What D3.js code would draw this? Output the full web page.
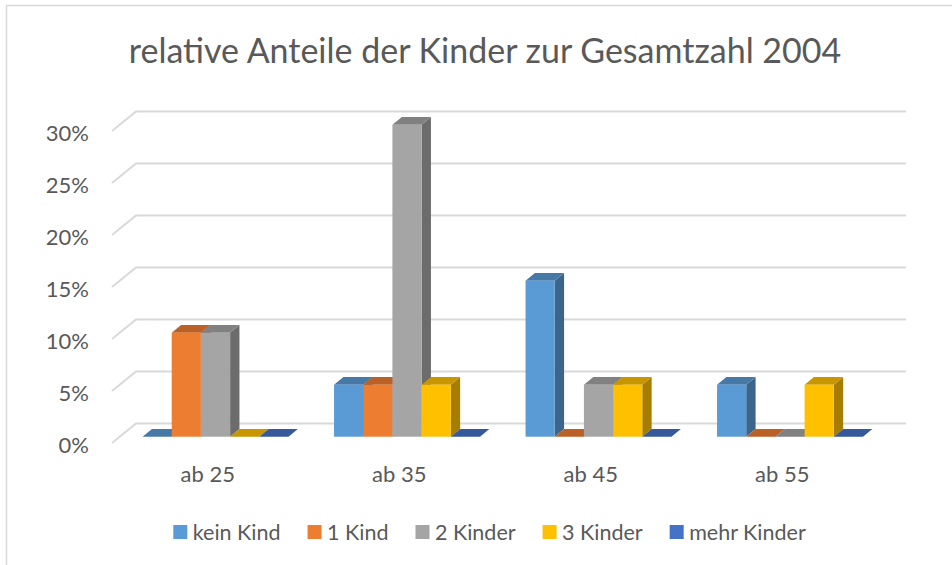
<!DOCTYPE html>
<html>
<head>
<meta charset="utf-8">
<script src="https://cdn.jsdelivr.net/npm/d3@7"></script>
<style>
body { margin: 0; background: #fff; }
text { font-family: Lato, "Noto Sans", sans-serif; fill: #595959; }
</style>
</head>
<body>
<svg id="chart" width="952" height="565"></svg>
<script>
var categories = ["ab 25", "ab 35", "ab 45", "ab 55"];
var seriesNames = ["kein Kind", "1 Kind", "2 Kinder", "3 Kinder", "mehr Kinder"];
var keinKind   = [0,    0.05, 0.15, 0.05];
var einKind    = [0.10, 0.05, 0,    0];
var zweiKinder = [0.10, 0.30, 0.05, 0];
var dreiKinder = [0,    0.05, 0.05, 0.05];
var mehrKinder = [0,    0,    0,    0];
var colors = ["#5B9BD5", "#ED7D31", "#A5A5A5", "#FFC000", "#4472C4"];
var yTicks = [0, 0.05, 0.10, 0.15, 0.20, 0.25, 0.30];

var values = [keinKind, einKind, zweiKinder, dreiKinder, mehrKinder];

var svg = d3.select("#chart");

// chart area border (runs off the right and bottom edge)
svg.append("rect")
    .attr("x", 6.5).attr("y", 5.5)
    .attr("width", 1000).attr("height", 1000)
    .attr("fill", "none").attr("stroke", "#D9D9D9").attr("stroke-width", 1.5);

// fake 3d: front plane + depth vector
var depthX = 24, depthY = 19.5;
var barFront = 0.323, barBack = 0.713;
var wallLeft = 112, wallRight = 882;

var y = d3.scaleLinear().domain([0, 0.3]).range([443, 131]);
var x0 = d3.scaleBand().domain(categories).range([112, 878])
    .paddingInner(0.238).paddingOuter(0.119);
var x1 = d3.scaleBand().domain(seriesNames).range([0, x0.bandwidth()]);

// back wall gridlines
svg.append("g").selectAll("path")
    .data(yTicks)
    .enter().append("path")
    .attr("d", function(t) {
        var yy = y(t);
        return "M" + wallLeft + "," + yy +
               "L" + (wallLeft + depthX) + "," + (yy - depthY) +
               "L" + (wallRight + depthX) + "," + (yy - depthY);
    })
    .attr("fill", "none").attr("stroke", "#D9D9D9").attr("stroke-width", 2);

// y tick labels
svg.append("g").selectAll("text")
    .data(yTicks)
    .enter().append("text")
    .attr("x", 89)
    .attr("y", function(t) { return y(t) + 1; })
    .attr("text-anchor", "end")
    .attr("dominant-baseline", "central")
    .style("font-size", "22px")
    .text(d3.format(".0%"));

// bars, drawn left to right so the next front face hides the previous side
var bars = [];
categories.forEach(function(c, ci) {
    seriesNames.forEach(function(s, si) {
        bars.push({ cat: c, ser: s, si: si, v: values[si][ci] });
    });
});

var fdx = depthX * barFront, fdy = depthY * barFront;
var bdx = depthX * (barBack - barFront), bdy = depthY * (barBack - barFront);

var gBars = svg.append("g");
bars.forEach(function(b) {
    var xl = x0(b.cat) + x1(b.ser) + fdx;
    var xr = xl + x1.bandwidth();
    var yb = y(0) - fdy;
    var yt = y(b.v) - fdy;
    var base = d3.color(colors[b.si]);
    var g = gBars.append("g");
    if (b.v > 0) {
        g.append("path")
            .attr("d", "M" + xr + "," + yb + "L" + xr + "," + yt +
                  "L" + (xr + bdx) + "," + (yt - bdy) + "L" + (xr + bdx) + "," + (yb - bdy) + "Z")
            .attr("fill", base.darker(1.2));
    }
    g.append("path")
        .attr("d", "M" + xl + "," + yt + "L" + xr + "," + yt +
              "L" + (xr + bdx) + "," + (yt - bdy) + "L" + (xl + bdx) + "," + (yt - bdy) + "Z")
        .attr("fill", base.darker(0.7));
    if (b.v > 0) {
        g.append("rect")
            .attr("x", xl).attr("y", yt)
            .attr("width", x1.bandwidth()).attr("height", yb - yt)
            .attr("fill", base);
    }
});

// category labels
svg.append("g").selectAll("text")
    .data(categories)
    .enter().append("text")
    .attr("x", function(c) { return x0(c) + x0.bandwidth() / 2; })
    .attr("y", 481.5)
    .attr("text-anchor", "middle")
    .style("font-size", "22px")
    .text(function(c) { return c; });

// title
svg.append("text")
    .attr("x", 485).attr("y", 63)
    .attr("text-anchor", "middle")
    .style("font-size", "34px")
    .text("relative Anteile der Kinder zur Gesamtzahl 2004");

// legend, centred
var legend = svg.append("g");
var lx = 0;
seriesNames.forEach(function(s, i) {
    var item = legend.append("g").attr("transform", "translate(" + lx + ",0)");
    item.append("rect")
        .attr("x", 0).attr("y", 525)
        .attr("width", 14).attr("height", 14)
        .attr("fill", colors[i]);
    var t = item.append("text")
        .attr("x", 19.5).attr("y", 539.5)
        .style("font-size", "21.5px")
        .text(s);
    lx += 19.5 + t.node().getComputedTextLength() + 27;
});
lx -= 27;
legend.attr("transform", "translate(" + (489.5 - lx / 2) + ",0)");
</script>
</body>
</html>
